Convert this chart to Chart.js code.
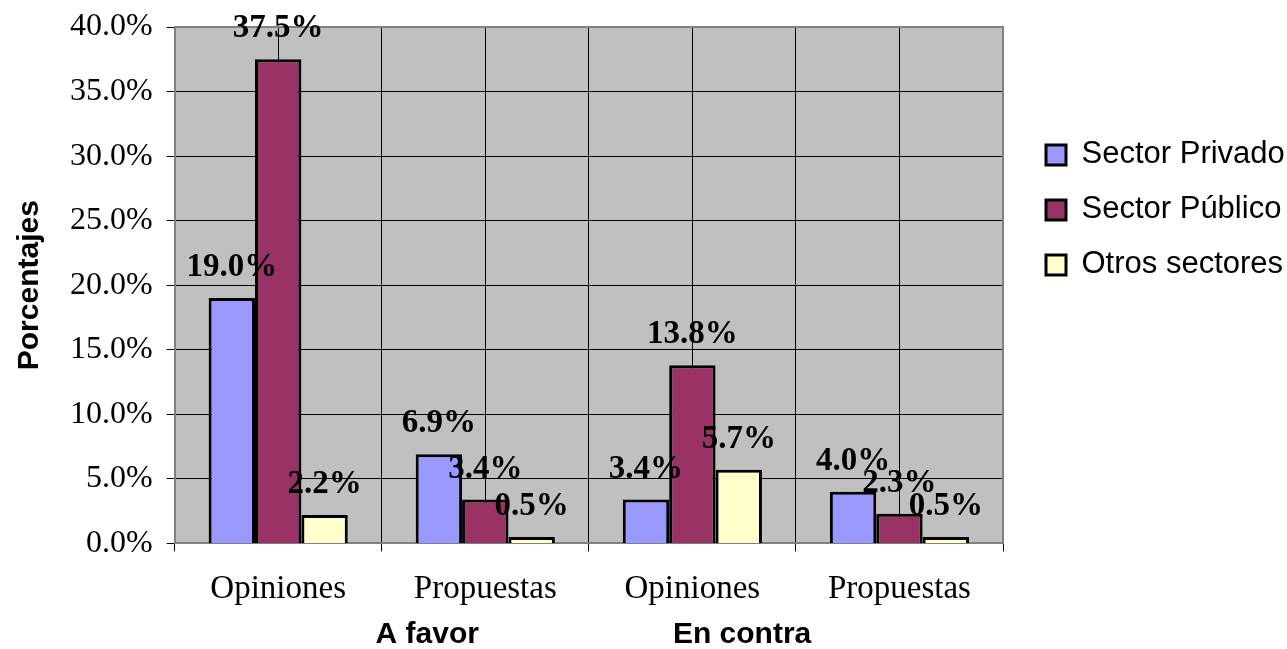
<!DOCTYPE html>
<html>
<head>
<meta charset="utf-8">
<script src="https://cdn.jsdelivr.net/npm/chart.js@4.4.1/dist/chart.umd.min.js"></script>
<style>
  html, body { margin: 0; padding: 0; background: #fff; }
</style>
</head>
<body>
<canvas id="grafico" width="1287" height="649"></canvas>
<script>
/* Datos */
var categorias = ['Opiniones', 'Propuestas', 'Opiniones', 'Propuestas'];
var grupos = ['A favor', 'En contra'];
var privado = [19.0, 6.9, 3.4, 4.0];
var publico = [37.5, 3.4, 13.8, 2.3];
var otros   = [2.2, 0.5, 5.7, 0.5];
var series  = ['Sector Privado', 'Sector Público', 'Otros sectores'];
var ticksY  = [0, 5, 10, 15, 20, 25, 30, 35, 40];

var serif = "'Liberation Serif', 'Times New Roman', serif";
var sans  = "'Liberation Sans', Arial, sans-serif";

/* fondo gris y marco */
var fondo = {
  id: 'fondo',
  beforeDraw(chart) {
    var a = chart.chartArea, ctx = chart.ctx;
    ctx.save();
    ctx.fillStyle = '#C0C0C0';
    ctx.fillRect(a.left, a.top, a.right - a.left, a.bottom - a.top);
    ctx.restore();
  },
  beforeDatasetsDraw(chart) {
    var a = chart.chartArea, ctx = chart.ctx;
    ctx.save();
    ctx.strokeStyle = '#808080';
    ctx.lineWidth = 2;
    ctx.beginPath();
    ctx.moveTo(a.left, a.top);
    ctx.lineTo(a.right, a.top);
    ctx.lineTo(a.right, a.bottom);
    ctx.stroke();
    ctx.restore();
  }
};

/* etiquetas de valores */
var etiquetas = {
  id: 'etiquetas',
  afterDatasetsDraw(chart) {
    var ctx = chart.ctx;
    ctx.save();
    ctx.font = 'bold 33px ' + serif;
    ctx.fillStyle = '#000';
    ctx.textAlign = 'center';
    ctx.textBaseline = 'alphabetic';
    chart.data.datasets.forEach(function (ds, i) {
      chart.getDatasetMeta(i).data.forEach(function (bar, j) {
        ctx.fillText(ds.data[j].toFixed(1) + '%', bar.x, bar.y - 22);
      });
    });
    ctx.restore();
  }
};

/* grupos A favor / En contra */
var posGrupos = [0.305, 0.685];
var etiquetasGrupo = {
  id: 'etiquetasGrupo',
  afterDraw(chart) {
    var a = chart.chartArea, ctx = chart.ctx;
    ctx.save();
    ctx.font = 'bold 30px ' + sans;
    ctx.fillStyle = '#000';
    ctx.textAlign = 'center';
    ctx.textBaseline = 'middle';
    grupos.forEach(function (g, i) {
      ctx.fillText(g, a.left + posGrupos[i] * (a.right - a.left), 635);
    });
    ctx.restore();
  }
};

var ctx = document.getElementById('grafico').getContext('2d');
var grafico = new Chart(ctx, {
  type: 'bar',
  data: {
    labels: categorias,
    datasets: [
      { label: series[0], data: privado, backgroundColor: '#9999FF' },
      { label: series[1], data: publico, backgroundColor: '#993366' },
      { label: series[2], data: otros,   backgroundColor: '#FFFFCC' }
    ]
  },
  options: {
    responsive: false,
    animation: false,
    categoryPercentage: 0.672,
    barPercentage: 1.0,
    datasets: { bar: { borderColor: '#000', borderWidth: 3 } },
    layout: { padding: { top: 0, right: 0, bottom: 22, left: 12 } },
    plugins: {
      tooltip: { enabled: false },
      legend: {
        position: 'right',
        align: 'start',
        maxWidth: 265,
        title: { display: true, text: '', font: { size: 12 }, padding: { top: 0, bottom: 101 } },
        labels: {
          color: '#000',
          font: { family: sans, size: 31 },
          boxWidth: 20,
          boxHeight: 20,
          padding: 24
        }
      }
    },
    scales: {
      x: {
        grid: { color: '#000', lineWidth: 1, tickLength: 8, offset: true },
        border: { color: '#808080', width: 2 },
        ticks: { color: '#000', font: { family: serif, size: 33 }, padding: 18, maxRotation: 0 }
      },
      xc: {
        type: 'category',
        position: 'bottom',
        labels: categorias,
        offset: true,
        grid: { color: '#000', lineWidth: 1, offset: false, drawTicks: false },
        border: { display: false },
        ticks: { display: false },
        afterFit: function (s) { s.height = 0; }
      },
      y: {
        min: 0,
        max: 40,
        afterBuildTicks: function (s) { s.ticks = ticksY.map(function (v) { return { value: v }; }); },
        afterFit: function (s) { s.paddingTop = 27; s.paddingBottom = 0; },
        grid: { color: '#000', lineWidth: 1, tickLength: 8 },
        border: { color: '#808080', width: 2 },
        ticks: {
          color: '#000',
          font: { family: serif, size: 32 },
          padding: 14,
          callback: function (v) { return v.toFixed(1) + '%'; }
        },
        title: {
          display: true,
          text: 'Porcentajes',
          color: '#000',
          font: { family: sans, size: 30, weight: 'bold' },
          padding: { top: 0, bottom: 8 }
        }
      },
      yr: {
        position: 'right',
        grid: { display: false },
        border: { display: false },
        ticks: { display: false },
        afterFit: function (s) { s.width = 19; s.paddingTop = 0; s.paddingBottom = 0; }
      }
    }
  },
  plugins: [fondo, etiquetas, etiquetasGrupo]
});
</script>
</body>
</html>
